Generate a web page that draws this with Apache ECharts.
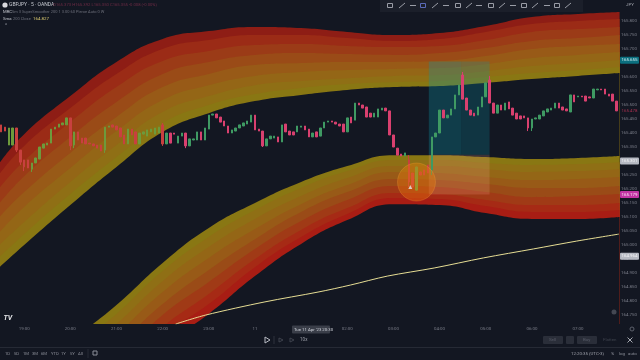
<!DOCTYPE html>
<html>
<head>
<meta charset="utf-8">
<style>
  html, body { margin: 0; padding: 0; background: #131722; }
  #chart { width: 640px; height: 360px; filter: blur(0.45px); }
</style>
<script src="https://cdn.jsdelivr.net/npm/echarts@6/dist/echarts.min.js"></script>
</head>
<body>
<div id="chart"></div>
<script>
// candles, 5 min bars, first one at 18:30
const opens = [165.429,165.421,165.357,165.357,165.418,165.339,165.304,165.304,165.271,165.293,165.307,165.346,165.357,165.364,165.414,165.421,165.429,165.429,165.454,165.357,165.404,165.382,165.382,165.364,165.361,165.357,165.357,165.339,165.421,165.429,165.425,165.418,165.393,165.361,165.414,165.404,165.361,165.396,165.389,165.404,165.396,165.400,165.429,165.361,165.400,165.400,165.364,165.389,165.400,165.354,165.375,165.375,165.404,165.375,165.414,165.464,165.468,165.457,165.443,165.425,165.400,165.407,165.418,165.425,165.432,165.439,165.464,165.414,165.407,165.354,165.379,165.382,165.386,165.368,165.432,165.407,165.404,165.404,165.421,165.425,165.414,165.386,165.404,165.389,165.418,165.439,165.443,165.439,165.432,165.432,165.404,165.457,165.446,165.507,165.500,165.493,165.471,165.457,165.457,165.482,165.489,165.479,165.393,165.346,165.325,165.318,165.304,165.257,165.196,165.261,165.268,165.286,165.268,165.386,165.400,165.482,165.454,165.464,165.486,165.536,165.607,165.525,165.482,165.471,165.464,165.493,165.529,165.589,165.507,165.471,165.500,165.482,165.511,165.489,165.471,165.461,165.461,165.454,165.418,165.450,165.450,165.461,165.475,165.482,165.489,165.507,165.493,165.486,165.475,165.536,165.529,165.532,165.532,165.529,165.525,165.554,165.557,165.557,165.539,165.539,165.514];
const closes = [165.404,165.407,165.418,165.418,165.339,165.296,165.279,165.275,165.293,165.311,165.350,165.361,165.364,165.414,165.421,165.432,165.436,165.454,165.354,165.404,165.375,165.364,165.361,165.361,165.354,165.346,165.336,165.421,165.425,165.421,165.411,165.386,165.361,165.414,165.393,165.361,165.400,165.404,165.411,165.414,165.418,165.421,165.361,165.400,165.364,165.396,165.389,165.400,165.354,165.379,165.379,165.404,165.375,165.418,165.464,165.468,165.454,165.439,165.425,165.400,165.411,165.418,165.429,165.436,165.443,165.464,165.411,165.407,165.354,165.379,165.389,165.389,165.368,165.429,165.404,165.393,165.393,165.425,165.425,165.411,165.386,165.400,165.386,165.418,165.439,165.443,165.439,165.432,165.425,165.404,165.454,165.436,165.507,165.500,165.489,165.457,165.457,165.471,165.486,165.489,165.479,165.393,165.350,165.321,165.318,165.329,165.225,165.207,165.279,165.250,165.250,165.257,165.386,165.400,165.482,165.454,165.464,165.486,165.536,165.571,165.521,165.482,165.464,165.461,165.493,165.529,165.579,165.507,165.471,165.500,165.482,165.507,165.486,165.464,165.450,165.450,165.454,165.418,165.450,165.454,165.464,165.479,165.486,165.489,165.507,165.489,165.482,165.479,165.536,165.511,165.532,165.529,165.514,165.525,165.557,165.557,165.554,165.539,165.532,165.514,165.479];
// only the wicks that stick out of the body, key is the candle index
const wickLows = {4:165.332,5:165.286,6:165.264,8:165.261,18:165.339,19:165.346,27:165.329,42:165.354,48:165.346,68:165.350,106:165.207,112:165.250,137:165.407,138:165.407};
const wickHighs = {42:165.436,106:165.321,120:165.618,127:165.604,148:165.536};
// candle index ranges that sit under the band tint
const tintedRanges = [[0,42],[106,111]];

// band outlines, sampled at these minutes after 19:00
const bandMinutes = [-32,0,60,120,180,240,300,360,420,480,540,600,660,720,774];
const upper0 = [165.293,165.396,165.532,165.654,165.736,165.764,165.779,165.775,165.761,165.750,165.757,165.782,165.814,165.825,165.832];
const upper1 = [165.254,165.354,165.489,165.611,165.700,165.732,165.750,165.750,165.739,165.729,165.736,165.761,165.789,165.800,165.807];
const upper2 = [165.204,165.300,165.439,165.564,165.657,165.693,165.714,165.718,165.711,165.707,165.711,165.732,165.761,165.771,165.779];
const upper3 = [165.150,165.246,165.386,165.511,165.611,165.654,165.679,165.686,165.682,165.679,165.686,165.704,165.729,165.739,165.750];
const upper4 = [165.100,165.189,165.329,165.457,165.564,165.611,165.643,165.650,165.654,165.654,165.657,165.675,165.700,165.711,165.718];
const upper5 = [165.046,165.136,165.275,165.407,165.518,165.571,165.604,165.618,165.625,165.629,165.632,165.646,165.668,165.679,165.689];
const upper6 = [165.000,165.082,165.225,165.357,165.475,165.532,165.571,165.586,165.596,165.604,165.607,165.621,165.639,165.650,165.661];
const upper7 = [164.957,165.039,165.182,165.314,165.436,165.500,165.539,165.561,165.575,165.582,165.586,165.600,165.614,165.625,165.636];
const upper8 = [164.921,165.000,165.143,165.279,165.404,165.471,165.514,165.536,165.554,165.564,165.568,165.579,165.593,165.604,165.614];

const lower0 = [164.439,164.511,164.654,164.786,164.936,165.061,165.150,165.225,165.282,165.321,165.321,165.314,165.307,165.311,165.318];
const lower1 = [164.404,164.475,164.621,164.754,164.907,165.029,165.125,165.204,165.264,165.304,165.304,165.293,165.286,165.289,165.296];
const lower2 = [164.361,164.432,164.582,164.718,164.871,164.993,165.093,165.175,165.239,165.282,165.282,165.271,165.261,165.264,165.271];
const lower3 = [164.318,164.389,164.536,164.679,164.832,164.954,165.057,165.146,165.214,165.261,165.257,165.243,165.232,165.236,165.243];
const lower4 = [164.268,164.339,164.489,164.636,164.789,164.911,165.021,165.118,165.189,165.236,165.232,165.218,165.204,165.204,165.211];
const lower5 = [164.218,164.289,164.443,164.593,164.750,164.868,164.986,165.086,165.161,165.211,165.207,165.189,165.171,165.175,165.182];
const lower6 = [164.171,164.243,164.396,164.554,164.707,164.825,164.950,165.054,165.132,165.186,165.182,165.161,165.143,165.143,165.150];
const lower7 = [164.132,164.204,164.361,164.518,164.675,164.789,164.921,165.029,165.111,165.168,165.164,165.139,165.118,165.118,165.125];
const lower8 = [164.089,164.161,164.321,164.482,164.639,164.754,164.889,165.004,165.089,165.146,165.143,165.114,165.093,165.093,165.100];

// sma line
const smaMinutes = [197,236,313,382,424,472,533,597,662,718,773];
const smaValues = [164.718,164.750,164.797,164.832,164.857,164.889,164.918,164.954,164.986,165.014,165.039];

// axes
const priceTicks = [165.8,165.75,165.7,165.6,165.55,165.5,165.45,165.4,165.35,165.25,165.2,165.15,165.1,165.05,165,164.95,164.9,164.85,164.8,164.75];
const timeTicks = [0,60,120,180,240,300,420,480,540,600,660,720];
const timeLabels = ['19:00','20:00','21:00','22:00','23:00','11','02:00','03:00','04:00','05:00','06:00','07:00'];

// position tool and highlight
const profitZones = [[526,568,165.655,165.322],[568,605,165.655,165.322]];
const lossZone = [526,605,165.322,165.18];
const highlight = [510,165.225];
const cursorMark = [502,165.207];

const bg = '#131722';
const upColor = '#3f9a63';
const downColor = '#d9406f';
const upTinted = '#6d9a3c';
const downTinted = '#c8403f';
const dim = '#7b7e89';
const font = 'Roboto';

const upperColors = ['#8e1d15','#9b2b16','#9b3b17','#9a4b17','#985a17','#946616','#8f6f15','#897713'];
const lowerColors = ['#897713','#8f6f15','#946616','#985a17','#9a4b17','#a03a16','#a62a15','#a81d14'];

function toPoints(values) {
  return bandMinutes.map((m, i) => [m, values[i]]);
}

function bandSeries(values, color) {
  return {
    type: 'line',
    data: toPoints(values),
    smooth: 0.5,
    symbol: 'none',
    lineStyle: { width: 0 },
    areaStyle: { color: color, opacity: 1, origin: 'start' },
    silent: true,
    animation: false,
    z: 1,
  };
}

const series = [];
[upper0,upper1,upper2,upper3,upper4,upper5,upper6,upper7].forEach((u, i) => series.push(bandSeries(u, upperColors[i])));
series.push(bandSeries(upper8, bg));
[lower0,lower1,lower2,lower3,lower4,lower5,lower6,lower7].forEach((l, i) => series.push(bandSeries(l, lowerColors[i])));
series.push(bandSeries(lower8, bg));

const smaPoints = smaMinutes.map((m, i) => [m, smaValues[i]]);

// position tool sits between the bands and the candles, markers need a series with data
series.push({
  type: 'line',
  data: smaPoints,
  symbol: 'none',
  lineStyle: { opacity: 0 },
  z: 2,
  silent: true,
  markArea: {
    silent: true,
    z: 2,
    label: { show: false },
    data: [
      [{ xAxis: profitZones[0][0], yAxis: profitZones[0][2], itemStyle: { color: 'rgba(10,150,170,0.30)' } }, { xAxis: profitZones[0][1], yAxis: profitZones[0][3] }],
      [{ xAxis: profitZones[1][0], yAxis: profitZones[1][2], itemStyle: { color: 'rgba(10,150,170,0.24)' } }, { xAxis: profitZones[1][1], yAxis: profitZones[1][3] }],
      [{ xAxis: lossZone[0], yAxis: lossZone[2], itemStyle: { color: 'rgba(255,170,150,0.18)' } }, { xAxis: lossZone[1], yAxis: lossZone[3] }],
    ],
  },
});

series.push({
  type: 'line',
  data: smaPoints,
  symbol: 'none',
  smooth: 0.3,
  lineStyle: { color: '#e6dd94', width: 1 },
  silent: true,
  animation: false,
  z: 3,
});

function isTinted(i) {
  return tintedRanges.some((r) => i >= r[0] && i <= r[1]);
}

series.push({
  type: 'candlestick',
  data: opens.map((o, i) => {
    const item = {
      value: [
        -30 + i * 5,
        o,
        closes[i],
        wickLows[i] !== undefined ? wickLows[i] : Math.min(o, closes[i]),
        wickHighs[i] !== undefined ? wickHighs[i] : Math.max(o, closes[i]),
      ],
    };
    if (isTinted(i)) {
      const tint = closes[i] >= o ? upTinted : downTinted;
      item.itemStyle = { color: tint, color0: tint, borderColor: tint, borderColor0: tint };
    }
    return item;
  }),
  encode: { x: 0, y: [1, 2, 3, 4] },
  barWidth: 2,
  itemStyle: {
    color: upColor,
    color0: downColor,
    borderColor: upColor,
    borderColor0: downColor,
    borderWidth: 1,
  },
  silent: true,
  animation: false,
  z: 3,
});

series.push({
  type: 'scatter',
  data: [highlight],
  symbol: 'circle',
  symbolSize: 38,
  itemStyle: { color: 'rgba(245,130,10,0.42)', borderColor: 'rgba(255,170,60,0.3)', borderWidth: 1 },
  silent: true,
  z: 4,
});
series.push({
  type: 'scatter',
  data: [cursorMark],
  symbol: 'triangle',
  symbolSize: 4,
  itemStyle: { color: '#e8e8e8' },
  silent: true,
  z: 5,
});

// price badges on the right scale, line itself stays invisible
function badge(value, bgColor, textColor) {
  return {
    yAxis: value,
    lineStyle: { color: 'rgba(0,0,0,0)', width: 0 },
    label: {
      show: true,
      position: 'end',
      distance: 1,
      formatter: value.toFixed(3),
      fontSize: 4.4,
      fontFamily: font,
      color: textColor,
      backgroundColor: bgColor,
      padding: [1.5, 1.5],
      borderRadius: 1,
    },
  };
}
series.push({
  type: 'line',
  data: smaPoints,
  symbol: 'none',
  lineStyle: { opacity: 0 },
  z: 6,
  silent: true,
  markLine: {
    silent: true,
    symbol: 'none',
    animation: false,
    z: 6,
    data: [
      badge(165.655, '#0b6f7f', '#d8eef2'),
      badge(165.478, 'rgba(0,0,0,0)', '#a8304f'),
      badge(165.301, '#b6b9c2', '#f4f4f6'),
      badge(165.179, '#c335a4', '#fbe6f6'),
      badge(164.964, '#b6b9c2', '#f4f4f6'),
    ],
  },
});

// page chrome around the plot
const chart = echarts.init(document.getElementById('chart'));

function txt(text, x, y, color, size, extra) {
  return {
    type: 'text',
    x: x,
    y: y,
    silent: true,
    z: 20,
    style: Object.assign({ text: text, fill: color, fontSize: size, fontFamily: font, textVerticalAlign: 'middle' }, extra || {}),
  };
}
function box(x, y, w, h, color, r) {
  return { type: 'rect', silent: true, z: 19, shape: { x: x, y: y, width: w, height: h, r: r || 0 }, style: { fill: color } };
}
function hline(x1, y1, x2, y2, color) {
  return { type: 'line', silent: true, z: 21, shape: { x1: x1, y1: y1, x2: x2, y2: y2 }, style: { stroke: color, lineWidth: 1 } };
}

const rangeLabels = ['1D','5D','1M','3M','6M','YTD','1Y','5Y','All'];
const rangeLabelX = [7,16,25,34,43,53,63,72,80];
const toolIconX = [390,402,413,423,435,446,458,469,479,491,502,513,524,535,547,557,568];

const graphics = [];
graphics.push(box(380, 0, 203, 12, '#1b1f2a'));
toolIconX.forEach((x, i) => {
  const c = i === 3 ? '#5a6ab8' : '#9a9da6';
  if (i % 3 === 0) graphics.push({ type: 'rect', silent: true, z: 21, shape: { x: x - 2.5, y: 3.5, width: 5, height: 4 }, style: { fill: 'none', stroke: c, lineWidth: 1 } });
  else if (i % 3 === 1) graphics.push(hline(x - 3, 8, x + 3, 3, c));
  else graphics.push(hline(x - 3, 5.5, x + 3, 5.5, c));
});
graphics.push(txt('JPY', 626, 5, '#a0a3ac', 4.4));
graphics.push({ type: 'circle', silent: true, z: 21, shape: { cx: 5, cy: 5, r: 2.6 }, style: { fill: '#d9d9de' } });
graphics.push(txt('GBPJPY · 5 · OANDA', 9, 5, '#c6c9d0', 5));
graphics.push(txt('O165.373 H165.392 L165.350 C165.355 -0.008 (-0.00%)', 53, 5, '#6e2b45', 4.2));
graphics.push(txt('MRC', 3, 12, '#c6c9d0', 4.2));
graphics.push(txt('5m 3 SuperSmoother 200 1 3.00 60 Pierce Auto 0 W', 12, 12, '#6c6f7a', 4));
graphics.push(txt('Sma', 3, 19, '#c6c9d0', 4.2));
graphics.push(txt('200 Close', 13, 19, '#6c6f7a', 4));
graphics.push(txt('164.827', 33, 19, '#d8c870', 4.4));
graphics.push(txt('^', 5, 26, '#9a9da6', 5));
graphics.push(txt('TV', 3.5, 318, '#e4e5e8', 7, { fontWeight: 'bold', fontStyle: 'italic' }));
graphics.push(box(292, 325.5, 38, 8, '#3a3e49', 1));
graphics.push(txt("Tue 11 Apr '23 20:30", 294, 329.5, '#d1d4dc', 4.3));
graphics.push(hline(0, 347.5, 640, 347.5, '#262a35'));
// replay bar
graphics.push({ type: 'polygon', silent: true, z: 21, shape: { points: [[265, 337], [265, 343], [270, 340]] }, style: { fill: 'none', stroke: '#b8bbc3', lineWidth: 1 } });
graphics.push(hline(274, 336, 274, 344, '#2e323d'));
graphics.push({ type: 'polygon', silent: true, z: 21, shape: { points: [[279, 338], [279, 342], [283, 340]] }, style: { fill: 'none', stroke: '#3e424d', lineWidth: 1 } });
graphics.push({ type: 'polygon', silent: true, z: 21, shape: { points: [[290, 338], [290, 342], [294, 340]] }, style: { fill: 'none', stroke: '#3e424d', lineWidth: 1 } });
graphics.push(txt('10x', 300, 340, '#9a9da6', 4.6));
graphics.push(box(543, 336, 20, 8, '#2a2e39', 1));
graphics.push(box(566, 336, 8, 8, '#2a2e39', 1));
graphics.push(box(577, 336, 20, 8, '#2a2e39', 1));
graphics.push(txt('Sell', 549, 340, '#585c68', 4.4));
graphics.push(txt('Buy', 583, 340, '#585c68', 4.4));
graphics.push(txt('Flatten', 603, 340, '#3f434e', 4.4));
graphics.push(hline(627.5, 337.5, 632.5, 342.5, '#a8abb3'));
graphics.push(hline(632.5, 337.5, 627.5, 342.5, '#a8abb3'));
graphics.push({ type: 'circle', silent: true, z: 21, shape: { cx: 614, cy: 312, r: 2.5 }, style: { fill: '#444853' } });
graphics.push({ type: 'circle', silent: true, z: 21, shape: { cx: 632, cy: 329, r: 2 }, style: { fill: 'none', stroke: '#5c606b', lineWidth: 1 } });
// range row
rangeLabels.forEach((l, i) => graphics.push(txt(l, rangeLabelX[i] - 2, 353.5, '#8b8e98', 4.2)));
graphics.push(hline(88, 349, 88, 358, '#262a35'));
graphics.push({ type: 'rect', silent: true, z: 21, shape: { x: 93, y: 351, width: 4, height: 4 }, style: { fill: 'none', stroke: '#8b8e98', lineWidth: 1 } });
graphics.push(txt('12:20:35 (UTC-3)', 571, 353.5, '#a0a3ac', 4.4));
graphics.push(txt('%', 611, 353.5, '#8b8e98', 4.4));
graphics.push(txt('log', 619, 353.5, '#8b8e98', 4.4));
graphics.push(txt('auto', 628, 353.5, '#8b8e98', 4.4));

chart.setOption({
  backgroundColor: bg,
  animation: false,
  grid: { left: 0, right: 17, top: 0, bottom: 36, containLabel: false },
  xAxis: {
    type: 'value',
    min: -31.4,
    max: 773.3,
    splitLine: { show: false },
    axisLine: { show: false },
    axisTick: { show: false },
    axisLabel: {
      customValues: timeTicks,
      formatter: (v) => timeLabels[timeTicks.indexOf(v)] || '',
      color: dim,
      fontSize: 4.4,
      fontFamily: font,
      margin: 3,
    },
  },
  yAxis: {
    type: 'value',
    position: 'right',
    min: 164.718,
    max: 165.875,
    splitLine: { show: false },
    axisLine: { show: false },
    axisTick: { show: false },
    axisLabel: {
      customValues: priceTicks,
      formatter: (v) => v.toFixed(3),
      color: dim,
      fontSize: 4.4,
      fontFamily: font,
      margin: 2,
    },
  },
  series: series,
  graphic: graphics,
});
</script>
</body>
</html>
